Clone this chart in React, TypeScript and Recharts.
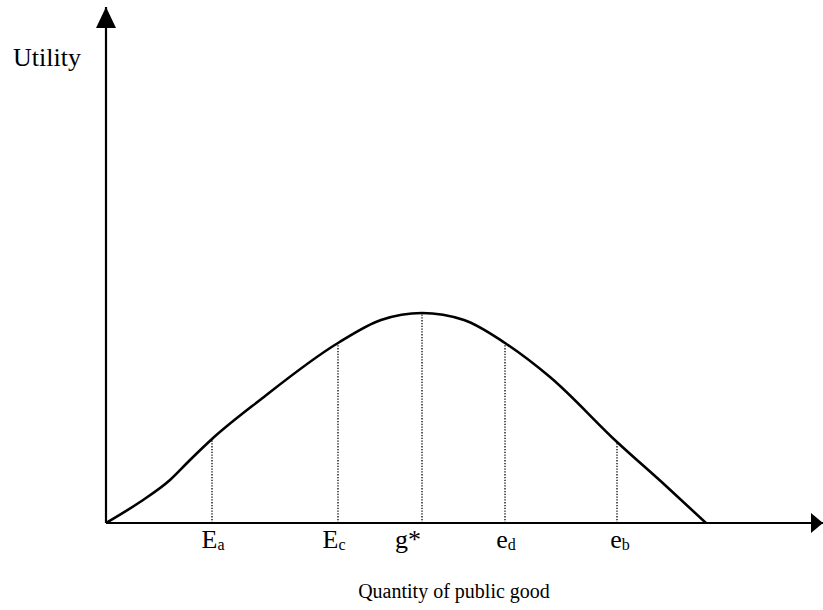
import React from 'react';
import { ComposedChart, Line, XAxis, YAxis, ReferenceLine, ReferenceDot } from 'recharts';

// Quantity of public good (x) and utility (u), in chart units
const curveX = [0, 34, 64, 84, 106, 154, 232, 275, 316, 358, 399, 444, 511, 560, 600];
const curveU = [0, 21, 43, 63, 84, 123, 180, 203, 210, 203, 180, 146, 81, 37, 0];

// Marked quantities and the utility at each
const markX = [106, 232, 316, 399, 511];
const markU = [84, 180, 210, 180, 81];
const markMain = ['E', 'E', 'g*', 'e', 'e'];
const markSub = ['a', 'c', '', 'd', 'b'];

const X_MAX = 717;
const Y_MAX = 516;

const data = curveX.map((x, i) => ({ x, u: curveU[i] }));

const FONT = '"Liberation Serif", "Times New Roman", serif';
const labelShift = [1, -4, -14, 1, 3];

const Tick = (props: any) => {
  const { x, y, payload } = props;
  const i = markX.indexOf(payload.value);
  if (i < 0) return null;
  return (
    <text
      x={x + labelShift[i]}
      y={y + 25}
      textAnchor="middle"
      fontFamily={FONT}
      fontSize={26}
      fill="#000"
    >
      <tspan>{markMain[i]}</tspan>
      {markSub[i] ? (
        <tspan fontSize={16} dy={2}>
          {markSub[i]}
        </tspan>
      ) : null}
    </text>
  );
};

const UpArrow = (props: any) => {
  const { cx, cy } = props;
  return <path d={`M${cx},${cy} L${cx - 10},${cy + 21} L${cx + 10},${cy + 21} Z`} fill="#000" />;
};

const RightArrow = (props: any) => {
  const { cx, cy } = props;
  return <path d={`M${cx},${cy} L${cx - 12},${cy - 10} L${cx - 12},${cy + 10} Z`} fill="#000" />;
};

export default function App() {
  return (
    <div style={{ position: 'absolute', left: 0, top: 0, width: 823, height: 610, background: '#fff' }}>
      <ComposedChart
        width={823}
        height={610}
        data={data}
        margin={{ top: 7, right: 0, left: 106, bottom: 57 }}
      >
        <XAxis
          type="number"
          dataKey="x"
          domain={[0, X_MAX]}
          ticks={markX}
          interval={0}
          axisLine={false}
          tickLine={false}
          tickSize={0}
          tickMargin={0}
          height={30}
          tick={<Tick />}
          allowDataOverflow
        />
        <YAxis type="number" domain={[0, Y_MAX]} hide allowDataOverflow />
        <ReferenceLine x={0} stroke="#000" strokeWidth={2.2} />
        <ReferenceLine y={0} stroke="#000" strokeWidth={2.2} />
        {markX.map((mx, i) => (
          <ReferenceLine
            key={mx}
            segment={[
              { x: mx, y: 0 },
              { x: mx, y: markU[i] },
            ]}
            stroke="#000"
            strokeWidth={1.3}
            strokeDasharray="1.3 1.5"
          />
        ))}
        <Line
          type="monotone"
          dataKey="u"
          stroke="#000"
          strokeWidth={2.6}
          dot={false}
          activeDot={false}
          isAnimationActive={false}
        />
        <ReferenceDot x={0} y={Y_MAX} shape={<UpArrow />} />
        <ReferenceDot x={X_MAX} y={0} shape={<RightArrow />} />
      </ComposedChart>
      <svg
        width={823}
        height={610}
        style={{ position: 'absolute', left: 0, top: 0, pointerEvents: 'none' }}
      >
        <text x={13} y={66} fontFamily={FONT} fontSize={26} fill="#000">
          Utility
        </text>
        <text x={454} y={598} textAnchor="middle" fontFamily={FONT} fontSize={20} fill="#000">
          Quantity of public good
        </text>
      </svg>
    </div>
  );
}
